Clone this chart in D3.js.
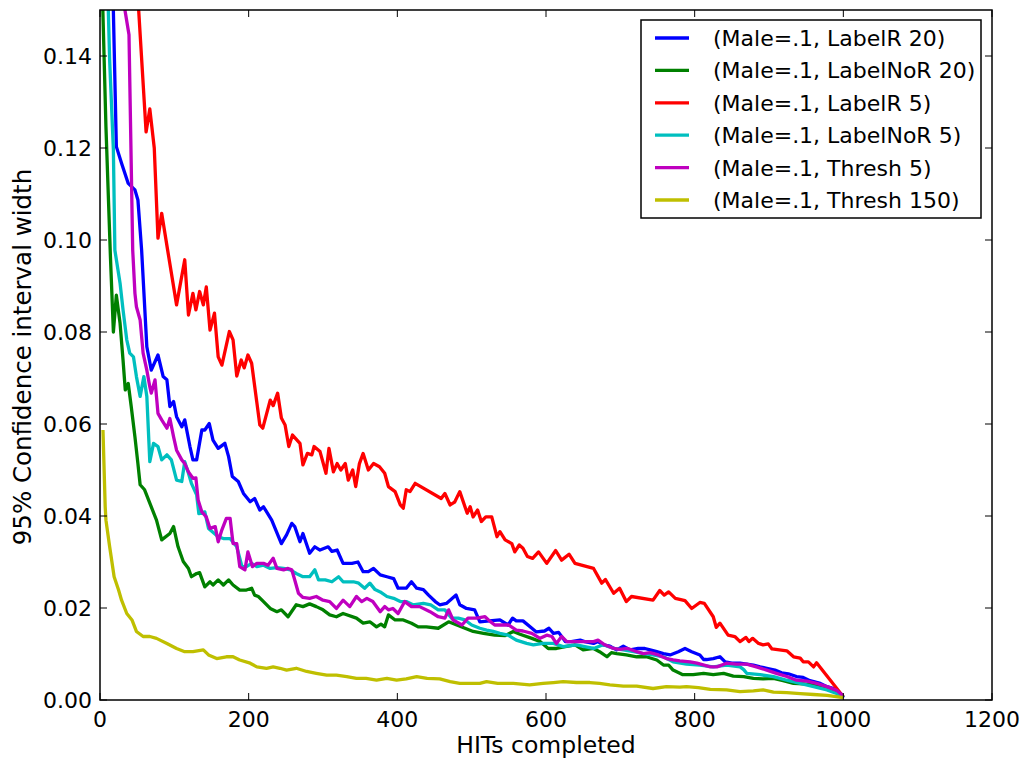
<!DOCTYPE html>
<html>
<head>
<meta charset="utf-8">
<script src="https://cdn.jsdelivr.net/npm/d3@7"></script>
<style>
	body { margin: 0; background: #fff; }
	svg { display: block; font-family: "DejaVu Sans", sans-serif; }
	.frame { fill: none; stroke: #000; stroke-width: 1.5; }
	.tick-mark { stroke: #000; stroke-width: 1; }
	.series { fill: none; stroke-width: 3.3; stroke-linejoin: round; }
</style>
</head>
<body>
<div id="chart"></div>
<script>
"use strict";

//---- Data (HITs completed, CI width)
const labelR20 = [[17,0.157],[22,0.1203],[29,0.1167],[38,0.1123],[47,0.1109],[51,0.1087],[56,0.0978],[63,0.0768],[69,0.0717],[78,0.075],[85,0.0703],[90,0.0696],[94,0.0638],[99,0.0649],[103,0.0616],[110,0.0594],[114,0.0609],[121,0.0551],[125,0.0522],[130,0.0522],[137,0.0587],[141,0.0587],[147,0.0601],[152,0.0565],[159,0.0547],[168,0.0558],[173,0.0529],[178,0.0486],[186,0.0475],[193,0.0449],[202,0.0431],[208,0.0438],[215,0.0413],[220,0.042],[231,0.0391],[244,0.034],[251,0.0359],[258,0.0384],[262,0.0377],[269,0.0344],[273,0.0362],[282,0.0319],[289,0.0333],[296,0.0326],[307,0.0333],[312,0.0323],[319,0.0326],[327,0.0297],[339,0.0297],[347,0.03],[354,0.0279],[361,0.0279],[368,0.0286],[377,0.0272],[386,0.0268],[395,0.0264],[401,0.0243],[412,0.0243],[419,0.0257],[426,0.0243],[435,0.024],[442,0.0228],[451,0.0214],[457,0.0207],[466,0.021],[479,0.0228],[484,0.0207],[493,0.0199],[504,0.0196],[511,0.017],[524,0.0172],[538,0.0174],[549,0.0163],[555,0.0178],[560,0.0172],[569,0.0172],[581,0.0156],[587,0.0148],[598,0.015],[604,0.0156],[610,0.0145],[617,0.0147],[626,0.0127],[634,0.0127],[646,0.013],[652,0.0127],[664,0.0123],[670,0.0127],[677,0.012],[686,0.0117],[695,0.0109],[704,0.0117],[713,0.0109],[724,0.0112],[733,0.0112],[740,0.0109],[749,0.0105],[758,0.0101],[767,0.0098],[778,0.0105],[787,0.0112],[796,0.0105],[807,0.0098],[812,0.0088],[816,0.0088],[825,0.009],[834,0.0094],[841,0.0083],[850,0.008],[861,0.008],[879,0.0076],[888,0.0072],[897,0.0069],[908,0.0065],[917,0.0059],[926,0.0057],[937,0.0051],[946,0.0049],[955,0.0042],[969,0.0036],[978,0.0029],[987,0.0025],[998,0.0012],[1000,0.0005]];

const labelNoR20 = [[3,0.155],[8,0.1246],[14,0.0965],[18,0.08],[22,0.088],[27,0.0819],[31,0.0739],[34,0.0674],[38,0.0688],[42,0.0638],[47,0.0572],[51,0.0514],[54,0.0468],[60,0.0457],[67,0.0428],[76,0.0391],[83,0.0348],[94,0.0362],[99,0.0377],[105,0.0333],[112,0.0301],[119,0.0286],[123,0.0268],[130,0.0275],[134,0.0277],[141,0.0246],[148,0.0257],[152,0.025],[159,0.0261],[166,0.025],[173,0.0261],[179,0.025],[188,0.0239],[197,0.0239],[204,0.0243],[208,0.0228],[213,0.0225],[220,0.0214],[229,0.0199],[238,0.0192],[244,0.0196],[253,0.0181],[264,0.0207],[273,0.0203],[282,0.0209],[291,0.0203],[300,0.0196],[309,0.0185],[318,0.0181],[327,0.0188],[345,0.0178],[354,0.0167],[363,0.017],[372,0.0159],[378,0.0165],[383,0.0159],[388,0.0185],[397,0.0174],[408,0.0174],[419,0.0167],[428,0.0159],[439,0.0159],[455,0.0156],[469,0.017],[480,0.0163],[491,0.0156],[502,0.0149],[516,0.0145],[531,0.0141],[545,0.014],[556,0.0149],[565,0.0143],[581,0.0134],[592,0.0127],[603,0.0112],[614,0.0112],[626,0.0116],[639,0.012],[650,0.0109],[664,0.0112],[672,0.0105],[682,0.0094],[688,0.0103],[695,0.0101],[708,0.0098],[722,0.0094],[735,0.0094],[749,0.0087],[758,0.0076],[765,0.0076],[771,0.0065],[780,0.0058],[784,0.0055],[798,0.0055],[812,0.0058],[825,0.0055],[839,0.0058],[852,0.0052],[866,0.0051],[879,0.0047],[892,0.0046],[906,0.0047],[919,0.0042],[933,0.0036],[946,0.0035],[960,0.0033],[978,0.0025],[991,0.0018],[1000,0.0005]];

const labelR5 = [[49,0.158],[62,0.1235],[67,0.1285],[73,0.12],[78,0.1004],[83,0.1058],[91,0.0978],[103,0.0859],[114,0.0957],[119,0.0837],[125,0.0884],[129,0.0848],[134,0.0888],[139,0.0859],[143,0.0898],[148,0.0804],[154,0.0841],[159,0.0746],[164,0.0728],[174,0.0801],[179,0.0783],[184,0.0704],[190,0.0739],[194,0.0722],[199,0.075],[204,0.0732],[215,0.0598],[219,0.0591],[229,0.0652],[233,0.064],[239,0.0667],[244,0.0613],[249,0.0598],[254,0.0551],[259,0.0576],[269,0.0558],[273,0.0511],[279,0.0536],[285,0.0533],[288,0.0551],[296,0.054],[304,0.0493],[308,0.0547],[314,0.0496],[319,0.0514],[324,0.05],[330,0.0514],[334,0.0478],[340,0.05],[344,0.0464],[349,0.0514],[354,0.0536],[361,0.05],[368,0.0514],[376,0.0507],[383,0.0493],[388,0.0464],[397,0.0453],[404,0.0424],[408,0.0417],[412,0.0457],[417,0.0453],[424,0.0471],[459,0.0438],[464,0.0449],[471,0.0424],[477,0.043],[484,0.0453],[494,0.0406],[498,0.042],[502,0.0398],[508,0.0413],[513,0.0388],[519,0.0398],[527,0.0398],[534,0.0355],[538,0.0366],[545,0.0348],[554,0.034],[558,0.0322],[564,0.0337],[569,0.033],[575,0.0312],[582,0.0308],[590,0.0322],[601,0.0297],[613,0.0325],[621,0.0304],[631,0.0317],[639,0.0297],[664,0.0286],[675,0.0254],[680,0.0262],[691,0.0232],[699,0.0243],[708,0.0214],[715,0.0225],[744,0.0217],[753,0.0238],[759,0.0228],[765,0.0235],[774,0.0221],[787,0.0216],[796,0.0199],[807,0.0212],[813,0.021],[825,0.0181],[829,0.0158],[834,0.0167],[845,0.0141],[854,0.0138],[861,0.0127],[869,0.0136],[873,0.0127],[878,0.0134],[886,0.0123],[892,0.012],[899,0.0122],[904,0.0111],[924,0.0107],[933,0.0094],[942,0.0091],[946,0.0083],[953,0.0083],[960,0.0072],[964,0.0081],[1000,0.0007]];

const labelNoR5 = [[10,0.157],[13,0.139],[18,0.1196],[20,0.0978],[27,0.0906],[31,0.0848],[36,0.0783],[40,0.0754],[45,0.0746],[49,0.0703],[54,0.066],[59,0.0703],[63,0.066],[67,0.0518],[72,0.0558],[78,0.0551],[83,0.0522],[90,0.0533],[96,0.0522],[103,0.0478],[110,0.0475],[114,0.0518],[119,0.0493],[123,0.0471],[130,0.0446],[133,0.0405],[141,0.0409],[146,0.0373],[159,0.0355],[166,0.0351],[175,0.0351],[184,0.0333],[191,0.029],[197,0.029],[204,0.0297],[211,0.029],[220,0.0293],[229,0.0286],[238,0.0288],[247,0.0286],[256,0.0283],[264,0.0275],[273,0.0268],[282,0.0268],[289,0.0283],[294,0.0261],[303,0.0261],[312,0.0257],[321,0.0268],[327,0.0257],[341,0.0257],[348,0.0254],[356,0.0243],[363,0.0254],[370,0.024],[377,0.0235],[386,0.0225],[395,0.0221],[404,0.0214],[412,0.0214],[421,0.0207],[435,0.021],[445,0.0207],[455,0.0196],[464,0.0196],[473,0.0178],[482,0.0178],[491,0.0174],[500,0.0163],[511,0.0156],[520,0.0152],[529,0.0149],[538,0.0145],[549,0.0141],[560,0.013],[574,0.0123],[583,0.012],[596,0.0123],[610,0.0123],[623,0.0116],[641,0.012],[652,0.0116],[664,0.0112],[677,0.012],[691,0.0112],[704,0.0109],[718,0.0105],[731,0.0101],[744,0.0098],[758,0.0094],[771,0.0083],[789,0.0078],[807,0.0076],[825,0.0072],[843,0.0076],[861,0.0072],[866,0.0066],[870,0.0058],[888,0.0055],[906,0.0051],[924,0.0043],[942,0.0036],[960,0.0029],[978,0.0022],[991,0.0014],[1000,0.0005]];

const thresh5 = [[30,0.1535],[39,0.1446],[44,0.0978],[47,0.0884],[49,0.0855],[54,0.0826],[58,0.0754],[63,0.0717],[67,0.0681],[69,0.0667],[74,0.0696],[78,0.0623],[83,0.0609],[90,0.0591],[94,0.0612],[99,0.0572],[103,0.0543],[110,0.0522],[114,0.0514],[119,0.0496],[125,0.0482],[129,0.0483],[132,0.0435],[137,0.0409],[143,0.0398],[148,0.0373],[155,0.0377],[159,0.0344],[164,0.037],[170,0.0395],[175,0.0395],[179,0.034],[184,0.034],[188,0.029],[195,0.0283],[199,0.0322],[205,0.029],[211,0.0297],[220,0.0297],[226,0.0293],[233,0.0308],[238,0.0286],[247,0.0283],[253,0.0286],[258,0.0283],[262,0.0261],[267,0.0232],[273,0.0223],[282,0.0221],[291,0.0225],[300,0.0217],[309,0.0214],[318,0.0199],[327,0.0217],[336,0.0203],[345,0.0225],[352,0.0214],[359,0.0221],[367,0.0214],[377,0.0192],[383,0.0203],[388,0.0196],[394,0.0199],[401,0.0188],[410,0.0214],[419,0.0203],[430,0.0203],[444,0.0192],[455,0.0181],[464,0.0178],[469,0.0196],[475,0.0174],[487,0.0163],[495,0.0178],[507,0.0178],[518,0.0181],[524,0.0172],[531,0.0163],[540,0.0163],[550,0.0163],[560,0.0152],[569,0.015],[581,0.0145],[592,0.0134],[601,0.0141],[608,0.0138],[614,0.0123],[621,0.0138],[628,0.0127],[641,0.0127],[652,0.0127],[664,0.0127],[670,0.013],[679,0.012],[691,0.0112],[699,0.011],[710,0.0112],[722,0.0105],[731,0.0101],[740,0.0103],[751,0.0098],[762,0.009],[771,0.0087],[780,0.0085],[794,0.0083],[803,0.008],[821,0.0072],[830,0.0072],[843,0.008],[856,0.0078],[870,0.0078],[883,0.0072],[897,0.0065],[910,0.0058],[924,0.0051],[937,0.0043],[951,0.0041],[964,0.0036],[978,0.0029],[991,0.0021],[999,0.001]];

const thresh150 = [[4,0.0587],[7,0.042],[8,0.0391],[13,0.0333],[19,0.0268],[25,0.0239],[29,0.0217],[36,0.0188],[43,0.0174],[49,0.0149],[58,0.0138],[67,0.0138],[76,0.0134],[90,0.0123],[103,0.0112],[114,0.0105],[125,0.0105],[139,0.0109],[146,0.0098],[157,0.009],[170,0.0094],[179,0.0094],[188,0.0087],[202,0.008],[211,0.0072],[224,0.0069],[233,0.0072],[242,0.0069],[251,0.0065],[264,0.0069],[278,0.0062],[291,0.0058],[305,0.0054],[318,0.0054],[332,0.0051],[345,0.0047],[358,0.0047],[372,0.0043],[386,0.0047],[399,0.0043],[412,0.0046],[426,0.0051],[440,0.0047],[457,0.0046],[471,0.004],[484,0.0036],[498,0.0036],[511,0.0036],[520,0.004],[535,0.0036],[556,0.0036],[578,0.0033],[596,0.0036],[610,0.0038],[623,0.004],[641,0.0038],[659,0.0038],[672,0.0036],[686,0.0033],[704,0.003],[722,0.003],[744,0.0025],[762,0.0029],[780,0.0028],[789,0.0029],[805,0.0027],[821,0.0023],[843,0.0022],[861,0.0018],[879,0.002],[892,0.0022],[906,0.0017],[924,0.0016],[942,0.0014],[960,0.0012],[978,0.001],[1000,0.0005]];

const seriesLabels = [
	'(Male=.1, LabelR 20)',
	'(Male=.1, LabelNoR 20)',
	'(Male=.1, LabelR 5)',
	'(Male=.1, LabelNoR 5)',
	'(Male=.1, Thresh 5)',
	'(Male=.1, Thresh 150)'
];
const seriesValues = [labelR20, labelNoR20, labelR5, labelNoR5, thresh5, thresh150];
const seriesColors = ['#0000ff', '#008000', '#ff0000', '#00bfbf', '#bf00bf', '#bfbf00'];

const xTicks = [0, 200, 400, 600, 800, 1000, 1200];
const yTicks = [0, 0.02, 0.04, 0.06, 0.08, 0.10, 0.12, 0.14];

//---- Layout
const width = 1026, height = 759;
const margin = { top: 10, right: 34, bottom: 59, left: 100 };
const plotW = width - margin.left - margin.right;
const plotH = height - margin.top - margin.bottom;
const tickLen = 7;

let svg = d3.select('#chart').append('svg')
	.attr('width', width)
	.attr('height', height);

let x = d3.scaleLinear().domain([0, 1200]).range([margin.left, margin.left + plotW]);
let y = d3.scaleLinear().domain([0, 0.15]).range([margin.top + plotH, margin.top]);

svg.append('clipPath')
	.attr('id', 'plot-clip')
	.append('rect')
	.attr('x', margin.left)
	.attr('y', margin.top)
	.attr('width', plotW)
	.attr('height', plotH);

//---- Lines
let line = d3.line()
	.x(d => x(d[0]))
	.y(d => y(d[1]));

svg.append('g')
	.attr('clip-path', 'url(#plot-clip)')
	.selectAll('path')
	.data(seriesValues)
	.join('path')
	.classed('series', true)
	.attr('stroke', (d, i) => seriesColors[i])
	.attr('d', line);

//---- Axes (matplotlib classic: ticks inside on all four sides)
let ticks = svg.append('g');

xTicks.forEach(t => {
	ticks.append('line').classed('tick-mark', true)
		.attr('x1', x(t)).attr('x2', x(t))
		.attr('y1', y(0)).attr('y2', y(0) - tickLen);
	ticks.append('line').classed('tick-mark', true)
		.attr('x1', x(t)).attr('x2', x(t))
		.attr('y1', y(0.15)).attr('y2', y(0.15) + tickLen);
	ticks.append('text')
		.attr('x', x(t))
		.attr('y', y(0) + 27)
		.attr('text-anchor', 'middle')
		.style('font-size', '22px')
		.text(t);
});

yTicks.forEach(t => {
	ticks.append('line').classed('tick-mark', true)
		.attr('x1', x(0)).attr('x2', x(0) + tickLen)
		.attr('y1', y(t)).attr('y2', y(t));
	ticks.append('line').classed('tick-mark', true)
		.attr('x1', x(1200)).attr('x2', x(1200) - tickLen)
		.attr('y1', y(t)).attr('y2', y(t));
	ticks.append('text')
		.attr('x', margin.left - 8)
		.attr('y', y(t))
		.attr('dy', '0.36em')
		.attr('text-anchor', 'end')
		.style('font-size', '22px')
		.text(d3.format('.2f')(t));
});

svg.append('rect')
	.classed('frame', true)
	.attr('x', margin.left)
	.attr('y', margin.top)
	.attr('width', plotW)
	.attr('height', plotH);

svg.append('text')
	.attr('x', margin.left + plotW / 2)
	.attr('y', 753)
	.attr('text-anchor', 'middle')
	.style('font-size', '23.5px')
	.text('HITs completed');

svg.append('text')
	.attr('transform', `translate(31, 357) rotate(-90)`)
	.attr('text-anchor', 'middle')
	.style('font-size', '24.5px')
	.text('95% Confidence interval width');

//---- Legend
let legend = svg.append('g').attr('transform', 'translate(641, 20)');

legend.append('rect')
	.attr('width', 340)
	.attr('height', 198)
	.attr('fill', '#fff')
	.attr('stroke', '#000')
	.attr('stroke-width', 1.5);

let rows = legend.selectAll('.row')
	.data(seriesLabels)
	.join('g')
	.classed('row', true)
	.attr('transform', (d, i) => `translate(0, ${18 + i * 32.4})`);

rows.append('line')
	.attr('x1', 14).attr('x2', 48)
	.attr('stroke', (d, i) => seriesColors[i])
	.attr('stroke-width', 3.3);

rows.append('text')
	.attr('x', 72)
	.attr('dy', '0.36em')
	.style('font-size', '22px')
	.text(d => d);
</script>
</body>
</html>
